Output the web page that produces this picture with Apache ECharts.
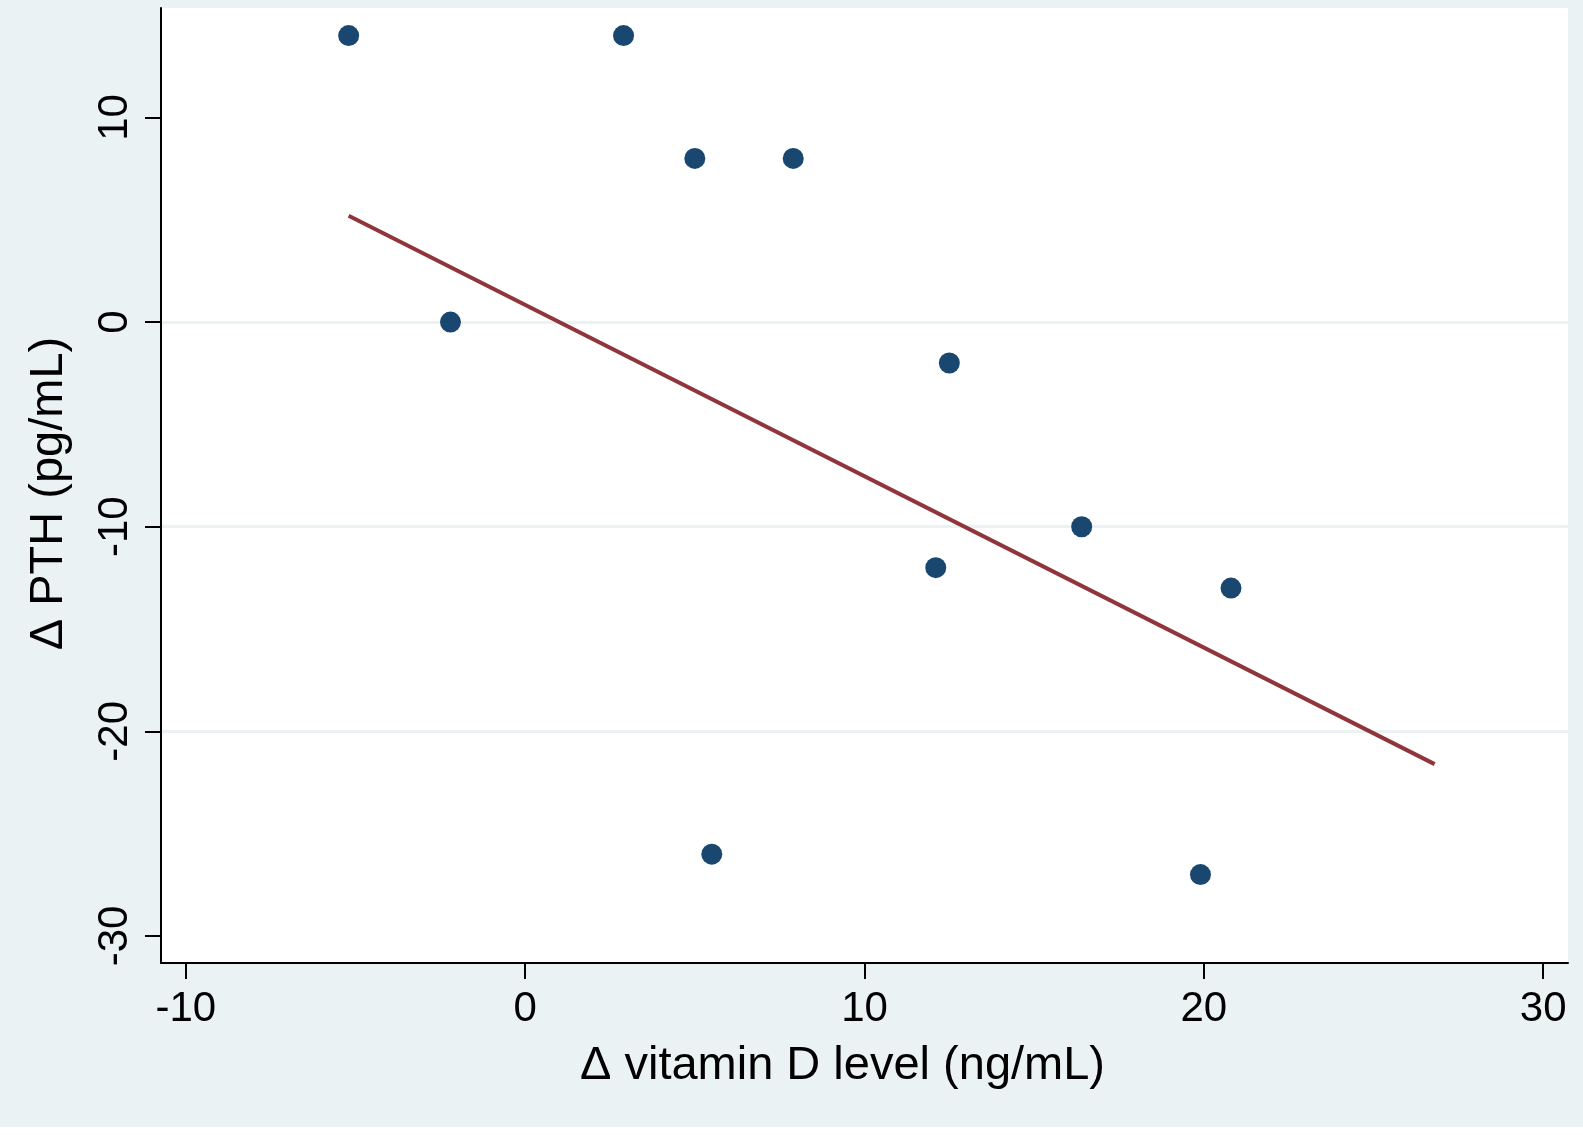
<!DOCTYPE html>
<html>
<head>
<meta charset="utf-8">
<script src="https://cdn.jsdelivr.net/npm/echarts@6/dist/echarts.min.js"></script>
<style>html,body{margin:0;padding:0;background:#eaf2f3;}#c{width:1583px;height:1135px;}</style>
</head>
<body>
<div id="c"></div>
<script>
const vitD = [-5.2, -2.2, 2.9, 5.0, 7.9, 12.5, 12.1, 16.4, 20.8, 5.5, 19.9];
const pth  = [14, 0, 14, 8, 8, -2, -12, -10, -13, -26, -27];
const fitX = [-5.2, 26.8];
const fitY = [5.2, -21.6];
const xTicks = [-10, 0, 10, 20, 30];
const yTicks = [-30, -20, -10, 0, 10];
const xTitle = 'Δ vitamin D level (ng/mL)';
const yTitle = 'Δ PTH (pg/mL)';

const font = '"Liberation Sans", Arial, sans-serif';
const chart = echarts.init(document.getElementById('c'));
chart.setOption({
  backgroundColor: '#eaf2f3',
  animation: false,
  graphic: [
    { type: 'rect', left: 0, top: 1127, shape: { width: 1583, height: 8 }, style: { fill: '#ffffff' }, silent: true }
  ],
  grid: { left: 161, top: 8, right: 15, bottom: 172, show: true, backgroundColor: '#ffffff', borderWidth: 0 },
  xAxis: {
    type: 'value', min: -10.73, max: 30.73,
    name: xTitle, nameLocation: 'middle', nameGap: 80,
    nameTextStyle: { fontFamily: font, fontSize: 47, color: '#000', padding: [0, 44, 0, 0] },
    axisLine: { show: true, onZero: false, lineStyle: { color: '#000', width: 2 } },
    axisTick: { show: true, length: 16, lineStyle: { color: '#000', width: 2 }, customValues: xTicks },
    axisLabel: { fontFamily: font, fontSize: 42, color: '#000', margin: 25, customValues: xTicks },
    splitLine: { show: false }
  },
  yAxis: {
    type: 'value', min: -31.32, max: 15.35,
    name: yTitle, nameLocation: 'middle', nameGap: 88, nameRotate: 90,
    nameTextStyle: { fontFamily: font, fontSize: 47, color: '#000', padding: [0, 16, 0, 0] },
    axisLine: { show: true, onZero: false, lineStyle: { color: '#000', width: 2 } },
    axisTick: { show: true, length: 16, lineStyle: { color: '#000', width: 2 }, customValues: yTicks },
    axisLabel: { fontFamily: font, fontSize: 42, color: '#000', margin: 25, rotate: 90, customValues: yTicks },
    splitLine: { show: true, showMinLine: false, showMaxLine: false, lineStyle: { color: '#eaf2f3', width: 3 } }
  },
  series: [
    {
      type: 'line', data: fitX.map((x, i) => [x, fitY[i]]),
      symbol: 'none', lineStyle: { color: '#90353b', width: 4 }, z: 2
    },
    {
      type: 'scatter', data: vitD.map((x, i) => [x, pth[i]]),
      symbol: 'circle', symbolSize: 21, itemStyle: { color: '#1a476f', opacity: 1 }, z: 3
    }
  ]
});
</script>
</body>
</html>
